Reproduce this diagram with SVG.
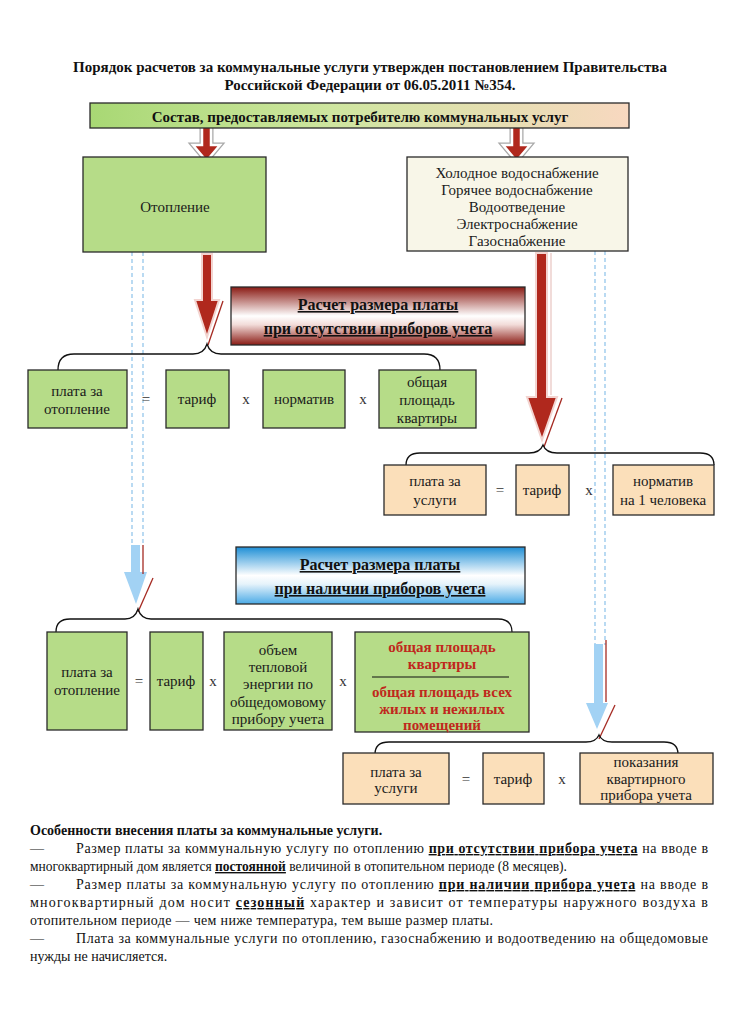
<svg xmlns="http://www.w3.org/2000/svg" width="733" height="1024" viewBox="0 0 733 1024">
<defs>
<linearGradient id="gBar" x1="0" y1="0" x2="1" y2="0"><stop offset="0" stop-color="#a8d874"/><stop offset="0.45" stop-color="#cfe6a0"/><stop offset="1" stop-color="#f8d8c0"/></linearGradient>
<linearGradient id="gRed" x1="0" y1="0" x2="0" y2="1"><stop offset="0" stop-color="#8a1b14"/><stop offset="0.5" stop-color="#ffffff"/><stop offset="0.65" stop-color="#f2dcd9"/><stop offset="1" stop-color="#8a1b14"/></linearGradient>
<linearGradient id="gBlue" x1="0" y1="0" x2="0" y2="1"><stop offset="0" stop-color="#1f8fd6"/><stop offset="0.5" stop-color="#ffffff"/><stop offset="0.65" stop-color="#e6f3fb"/><stop offset="1" stop-color="#4aaae6"/></linearGradient>
<style>
.box{stroke:#2a2a2a;stroke-width:1.3}
.green{fill:#b6dc88}
.peach{fill:#fbdfba}
.cream{fill:#f8f6e8}
.t{font-family:"Liberation Serif",serif;font-size:15px;fill:#1a1a1a;text-anchor:middle}
.op{font-family:"Liberation Serif",serif;font-size:15px;fill:#333;text-anchor:middle}
.rt{font-family:"Liberation Serif",serif;font-size:15px;font-weight:bold;fill:#c0281c;text-anchor:middle}
.h{font-family:"Liberation Serif",serif;font-size:16px;font-weight:bold;fill:#111;text-anchor:middle;text-decoration:underline}
.title{font-family:"Liberation Serif",serif;font-size:15px;font-weight:bold;fill:#111;text-anchor:middle}
.p{font-family:"Liberation Serif",serif;font-size:14px;fill:#111}
.bu{font-weight:bold;text-decoration:underline}
.brace{fill:none;stroke:#111;stroke-width:1.3}
.dash{fill:none;stroke:#8cc2ea;stroke-width:1.2;stroke-dasharray:4 3}
.ra{fill:#b0281d;stroke:#f3d4d0;stroke-width:2}
.ra2{fill:#b0281d;stroke:#ffffff;stroke-width:2.5}
.ba{fill:#a2d2f4}
.refl{fill:none;stroke:#a52a22;stroke-width:1.3}
.pale{fill:none;stroke:#e8c4c0;stroke-width:1.2}
</style>
</defs>
<rect width="733" height="1024" fill="#ffffff"/>

<g id="title">
<text class="title" x="370" y="72">Порядок расчетов за коммунальные услуги утвержден постановлением Правительства</text>
<text class="title" x="370" y="90">Российской Федерации от 06.05.2011 №354.</text>
</g>

<g id="connectors">
<line class="dash" x1="132" y1="252" x2="132" y2="545"/>
<line class="dash" x1="143" y1="252" x2="143" y2="545"/>
<line class="dash" x1="595" y1="251" x2="595" y2="645"/>
<line class="dash" x1="605" y1="251" x2="605" y2="645"/>
<polygon points="202,122 211,122 211,145 220,145 206.5,161 193,145 202,145" fill="none" stroke="#a8a8a8" stroke-width="5"/>
<polygon class="ra2" points="202,122 211,122 211,145 220,145 206.5,161 193,145 202,145"/>
<polygon points="512,122 521,122 521,145 530,145 516.5,161 503,145 512,145" fill="none" stroke="#a8a8a8" stroke-width="5"/>
<polygon class="ra2" points="512,122 521,122 521,145 530,145 516.5,161 503,145 512,145"/>
<polygon class="ra" points="202,254 212,254 212,300 219,300 207,337 195,300 202,300"/>
<line class="refl" x1="223" y1="301" x2="208" y2="345"/>
<polygon class="ra" points="536,253 547,253 547,397 557,397 542,440 527,397 536,397"/>
<line class="pale" x1="551" y1="253" x2="551" y2="395"/>
<line class="refl" x1="562" y1="398" x2="544" y2="447"/>
<polygon class="ba" points="131,545 140,545 140,572 147,572 136,604 124,572 131,572"/>
<line class="refl" x1="143" y1="545" x2="143" y2="574"/>
<line class="refl" x1="153" y1="578" x2="138" y2="612"/>
<polygon class="ba" points="594,644 603,644 603,703 608,703 597,729 586,703 594,703"/>
<line class="refl" x1="606" y1="640" x2="606" y2="702"/>
<line class="refl" x1="615" y1="705" x2="599" y2="739"/>
<path class="brace" d="M58,370 Q58,354 74,354 L193,354 Q204,354 207,344 Q210,354 221,354 L424,354 Q440,354 440,370"/>
<path class="brace" d="M406,465 Q406,453 420,453 L529,453 Q540,453 543,445 Q546,453 557,453 L700,453 Q714,453 714,465"/>
<path class="brace" d="M56,632 Q56,619 70,619 L125,619 Q135,619 138,609 Q141,619 151,619 L498,619 Q512,619 512,632"/>
<path class="brace" d="M375,754 Q375,742 389,742 L586,742 Q596,742 599,735 Q602,742 612,742 L664,742 Q678,742 678,754"/>
</g>

<g id="bar">
<rect class="box" x="90" y="103" width="539" height="25" fill="url(#gBar)"/>
<text class="title" x="360" y="122">Состав, предоставляемых потребителю коммунальных услуг</text>
</g>

<g id="heating">
<rect class="box green" x="83" y="157" width="183" height="95"/>
<text class="t" x="175" y="212">Отопление</text>
</g>

<g id="services">
<rect class="box cream" x="407" y="157" width="221" height="94"/>
<text class="t" x="517" y="178">Холодное водоснабжение</text>
<text class="t" x="517" y="195">Горячее водоснабжение</text>
<text class="t" x="517" y="212">Водоотведение</text>
<text class="t" x="517" y="229">Электроснабжение</text>
<text class="t" x="517" y="246">Газоснабжение</text>
</g>

<g id="hdr-nometer">
<rect class="box" x="231" y="287" width="294" height="58" fill="url(#gRed)"/>
<text class="h" x="378" y="310">Расчет размера платы</text>
<text class="h" x="378" y="334">при отсутствии приборов учета</text>
</g>

<g id="row1">
<g id="r1-pay"><rect class="box green" x="28" y="370" width="99" height="58"/>
<text class="t" x="77" y="396">плата за</text><text class="t" x="77" y="414">отопление</text></g>
<text class="op" x="146" y="404">=</text>
<g id="r1-tariff"><rect class="box green" x="166" y="370" width="63" height="58"/>
<text class="t" x="197" y="404">тариф</text></g>
<text class="op" x="246" y="404">x</text>
<g id="r1-norm"><rect class="box green" x="263" y="370" width="82" height="58"/>
<text class="t" x="304" y="404">норматив</text></g>
<text class="op" x="363" y="404">x</text>
<g id="r1-area"><rect class="box green" x="379" y="370" width="97" height="58"/>
<text class="t" x="427" y="387">общая</text><text class="t" x="427" y="405">площадь</text><text class="t" x="427" y="423">квартиры</text></g>
</g>

<g id="row2">
<g id="r2-pay"><rect class="box peach" x="384" y="465" width="102" height="50"/>
<text class="t" x="435" y="486">плата за</text><text class="t" x="435" y="505">услуги</text></g>
<text class="op" x="500" y="495">=</text>
<g id="r2-tariff"><rect class="box peach" x="516" y="465" width="53" height="50"/>
<text class="t" x="542" y="495">тариф</text></g>
<text class="op" x="589" y="495">x</text>
<g id="r2-norm"><rect class="box peach" x="613" y="465" width="101" height="50"/>
<text class="t" x="663" y="486">норматив</text><text class="t" x="663" y="505">на 1 человека</text></g>
</g>

<g id="hdr-meter">
<rect class="box" x="236" y="547" width="289" height="57" fill="url(#gBlue)"/>
<text class="h" x="380" y="570">Расчет размера платы</text>
<text class="h" x="380" y="594">при наличии приборов учета</text>
</g>

<g id="row3">
<g id="r3-pay"><rect class="box green" x="47" y="632" width="80" height="98"/>
<text class="t" x="87" y="677">плата за</text><text class="t" x="87" y="695">отопление</text></g>
<text class="op" x="139" y="686">=</text>
<g id="r3-tariff"><rect class="box green" x="150" y="632" width="53" height="98"/>
<text class="t" x="176" y="686">тариф</text></g>
<text class="op" x="213" y="686">x</text>
<g id="r3-vol"><rect class="box green" x="224" y="632" width="108" height="98"/>
<text class="t" x="278" y="655">объем</text><text class="t" x="278" y="672">тепловой</text><text class="t" x="278" y="689">энергии по</text><text class="t" x="278" y="707">общедомовому</text><text class="t" x="278" y="724">прибору учета</text></g>
<text class="op" x="343" y="686">x</text>
<g id="r3-ratio"><rect class="box green" x="355" y="632" width="174" height="100"/>
<text class="rt" x="442" y="652">общая площадь</text><text class="rt" x="442" y="669">квартиры</text>
<line x1="372" y1="677" x2="509" y2="677" stroke="#111" stroke-width="1.2"/>
<text class="rt" x="442" y="697">общая площадь всех</text><text class="rt" x="442" y="714">жилых и нежилых</text><text class="rt" x="442" y="730">помещений</text></g>
</g>

<g id="row4">
<g id="r4-pay"><rect class="box peach" x="343" y="753" width="106" height="51"/>
<text class="t" x="396" y="777">плата за</text><text class="t" x="396" y="793">услуги</text></g>
<text class="op" x="466" y="784">=</text>
<g id="r4-tariff"><rect class="box peach" x="483" y="753" width="61" height="51"/>
<text class="t" x="513" y="784">тариф</text></g>
<text class="op" x="562" y="784">x</text>
<g id="r4-meter"><rect class="box peach" x="580" y="753" width="133" height="51"/>
<text class="t" x="646" y="767">показания</text><text class="t" x="646" y="784">квартирного</text><text class="t" x="646" y="800">прибора учета</text></g>
</g>

<g id="notes">
<text class="p" x="30" y="835" font-weight="bold" font-size="15">Особенности внесения платы за коммунальные услуги.</text>
<text class="p" x="30" y="853">—</text>
<text class="p" x="76" y="853" textLength="632" lengthAdjust="spacing">Размер платы за коммунальную услугу по отоплению <tspan class="bu">при отсутствии прибора учета</tspan> на вводе в</text>
<text class="p" x="30" y="871" textLength="537" lengthAdjust="spacingAndGlyphs">многоквартирный дом является <tspan class="bu">постоянной</tspan> величиной в отопительном периоде (8 месяцев).</text>
<text class="p" x="30" y="889">—</text>
<text class="p" x="76" y="889" textLength="632" lengthAdjust="spacing">Размер платы за коммунальную услугу по отоплению <tspan class="bu">при наличии прибора учета</tspan> на вводе в</text>
<text class="p" x="30" y="907" textLength="678" lengthAdjust="spacing">многоквартирный дом носит <tspan class="bu">сезонный</tspan> характер и зависит от температуры наружного воздуха в</text>
<text class="p" x="30" y="925" textLength="463" lengthAdjust="spacing">отопительном периоде — чем ниже температура, тем выше размер платы.</text>
<text class="p" x="30" y="943">—</text>
<text class="p" x="76" y="943" textLength="632" lengthAdjust="spacing">Плата за коммунальные услуги по отоплению, газоснабжению и водоотведению на общедомовые</text>
<text class="p" x="30" y="961">нужды не начисляется.</text>
</g>
</svg>
